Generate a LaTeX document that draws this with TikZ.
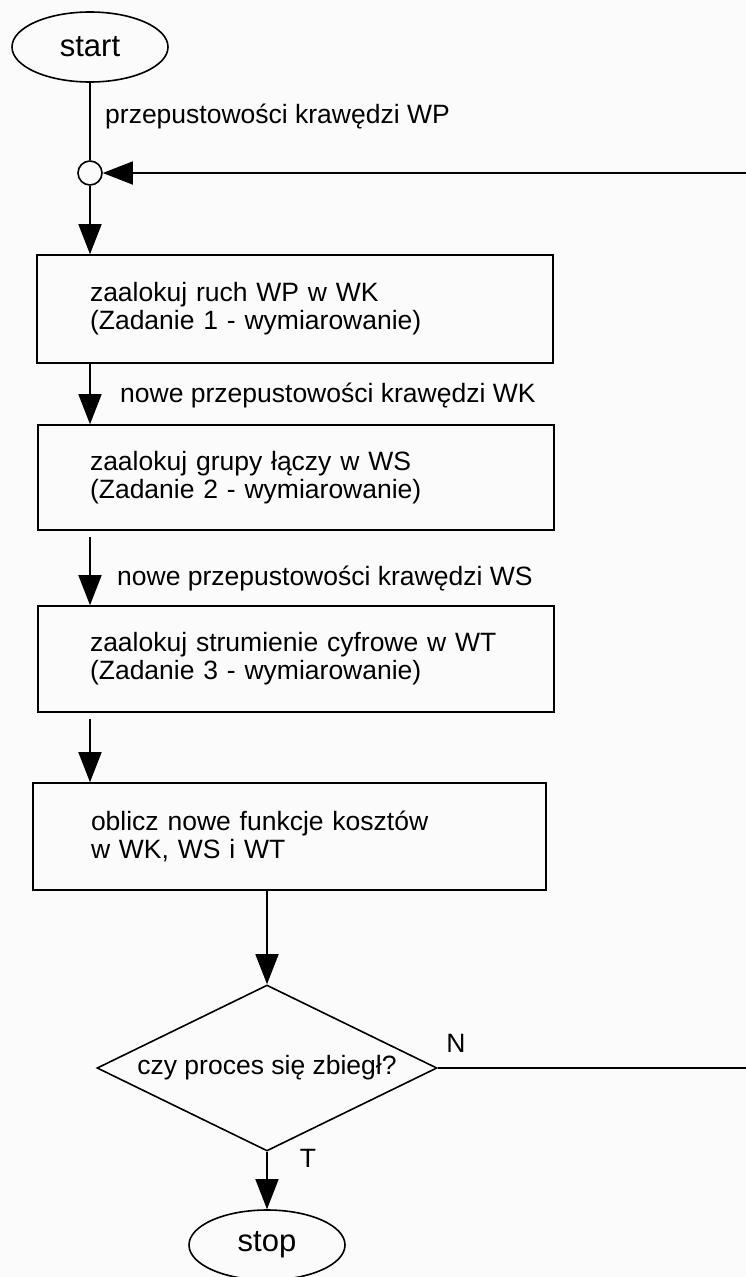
\documentclass[tikz,border=0pt]{standalone}
\usepackage{fontspec}
\setmainfont{Liberation Sans}
\usetikzlibrary{arrows.meta,shapes.geometric}
\begin{document}
\begin{tikzpicture}[x=1pt,y=-1pt,
  every node/.style={font=\fontsize{26.5}{28}\selectfont},
  line/.style={line width=1.6pt},
  flow/.style={line, -{Triangle[length=30pt,width=23pt]}},
  box/.style={draw, line width=1.6pt, inner xsep=0pt, inner ysep=0pt, align=left},
  term/.style={draw, ellipse, line width=1.6pt, inner sep=0pt,
    minimum width=156pt, minimum height=70pt, font=\fontsize{31}{33}\selectfont},
  lbl/.style={inner sep=0pt}
]
% page
\fill[gray!3] (0,0) rectangle (746,1277);
\useasboundingbox (0,0) rectangle (746,1277);

% terminals, junction, steps and decision
\node[term] (start) at (90,47) {start};
\node[draw, circle, line width=1.6pt, minimum size=24pt, inner sep=0pt] (j) at (90,173) {};
\node[box, minimum width=516pt, minimum height=108pt, text width=410pt] (b1) at (295,309)
  {zaalokuj ruch WP w WK\\(Zadanie 1 - wymiarowanie)};
\node[box, minimum width=516pt, minimum height=105pt, text width=412pt] (b2) at (296,477.5)
  {zaalokuj grupy łączy w WS\\(Zadanie 2 - wymiarowanie)};
\node[box, minimum width=516pt, minimum height=106pt, text width=412pt] (b3) at (296,659)
  {zaalokuj strumienie cyfrowe w WT\\(Zadanie 3 - wymiarowanie)};
\node[box, minimum width=513pt, minimum height=107pt, text width=397pt] (b4) at (289.5,836.5)
  {oblicz nowe funkcje kosztów\\w WK, WS i WT};
\node[draw, diamond, aspect=2, minimum width=340pt, minimum height=166pt, inner sep=0pt,
  line width=1.6pt] (d) at (267,1068) {czy proces się zbiegł?};
\node[term] (stop) at (267,1245) {stop};

% loose ends of the feedback loop at the page edge
\coordinate (fbin) at (746,173);
\coordinate (fbout) at (746,1068);

% connectors
\draw[line] (start.south) -- (j.north);
\draw[flow] (fbin) -- (j.east);
\draw[flow] (j.south) -- (b1.north -| j.south);
\draw[flow] (b1.south -| j) -- (b2.north -| j);
\draw[flow] ([yshift=-6pt]b2.south -| j) -- (b3.north -| j);
\draw[flow] ([yshift=-6pt]b3.south -| j) -- (b4.north -| j);
\draw[flow] (b4.south -| d.north) -- (d.north);
\draw[line] (d.east) -- (fbout);
\draw[flow] (d.south) -- (stop.north);

% labels
\node[lbl, anchor=west] (lwp) at (105,117) {przepustowości krawędzi WP};
\node[lbl, anchor=west] (lwk) at (120,396) {nowe przepustowości krawędzi WK};
\node[lbl, anchor=west] (lws) at (117,578) {nowe przepustowości krawędzi WS};
\node[lbl] (ln) at (456,1043) {N};
\node[lbl] (lt) at (308,1158) {T};
\end{tikzpicture}
\end{document}
